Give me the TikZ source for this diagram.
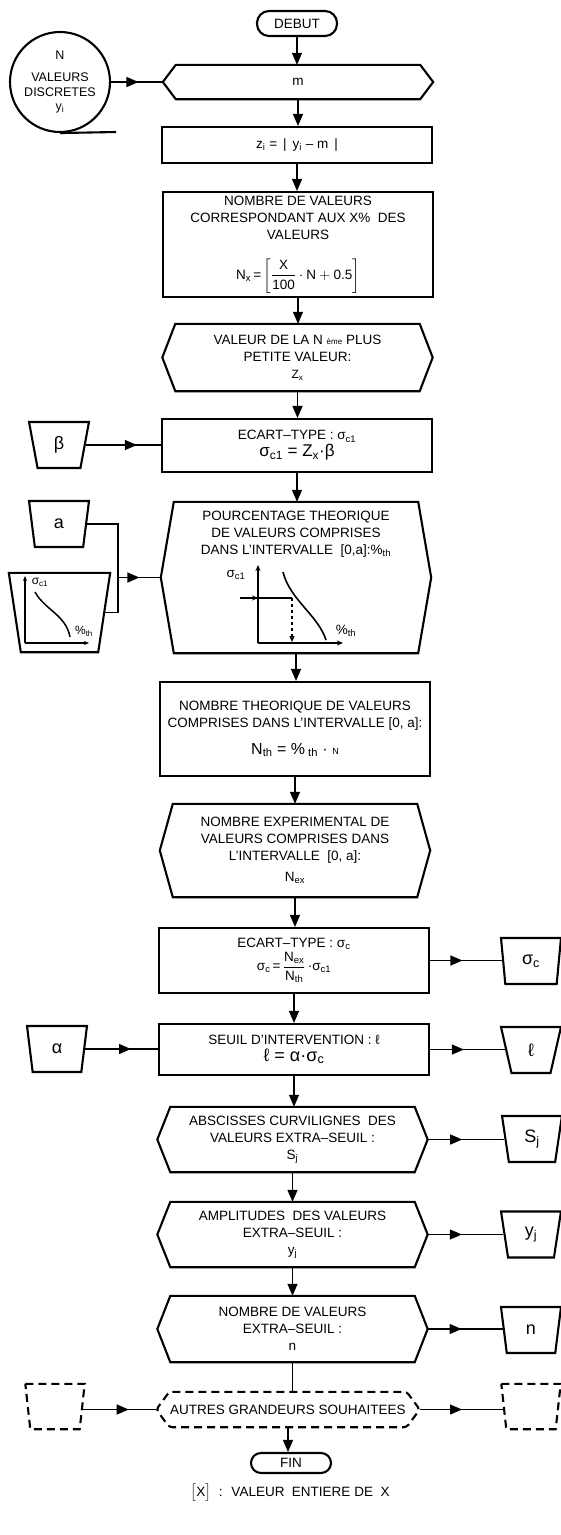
\documentclass[tikz,border=0pt]{standalone}
\usepackage{amsmath}
\usepackage{fontspec}
\setmainfont{Liberation Sans}
\usetikzlibrary{arrows.meta,shapes.geometric,decorations.markings,calc}

% contour hexagonal (affichage) autour d'un noeud rectangulaire invisible
\newcommand{\contourhexa}[2][]{%
  \draw[trait,#1] ($(#2.north west)+(13,0)$) -- ($(#2.north east)+(-13,0)$)
    -- (#2.east) -- ($(#2.south east)+(-13,0)$) -- ($(#2.south west)+(13,0)$)
    -- (#2.west) -- cycle;}
% contour trapeze (operation manuelle), le bas retreci de #3 de chaque cote
\newcommand{\contourmanuel}[3][]{%
  \draw[trait,#1] (#2.north west) -- (#2.north east)
    -- ($(#2.south east)+(-#3,0)$) -- ($(#2.south west)+(#3,0)$) -- cycle;}

\begin{document}
\begin{tikzpicture}[x=1pt,y=-1pt,
    >={Triangle[length=12pt,width=10pt]},
    trait/.style={line width=2.1pt},
    fil/.style={line width=1.3pt},
    texte/.style={align=center,inner sep=0pt,font=\fontsize{13.5}{17}\selectfont},
    boite/.style={texte,draw,trait,minimum width=270pt},
    affich/.style={texte,minimum width=270pt},
    extremite/.style={texte,draw,trait,rounded corners=12pt,minimum width=80pt,minimum height=25pt},
    bande/.style={texte,draw,trait,circle,minimum size=100pt,font=\fontsize{12.5}{14.5}\selectfont},
    manuel/.style={draw,trait,trapezium,trapezium stretches=true,trapezium angle=97,
      minimum width=60pt,minimum height=46pt,inner sep=0pt,font=\fontsize{18}{20}\selectfont},
    vide/.style={texte,minimum width=59pt,minimum height=45pt},
    pointille/.style={dash pattern=on 8pt off 5pt},
    suite/.style={fil,->},
    milieu/.style={fil,postaction={decorate},
      decoration={markings,mark=at position #1 with {\arrow{>}}}},
    milieu/.default=0.55,
    petitfl/.style={-{Stealth[length=6pt,width=5pt]}}]

  \path[use as bounding box,fill=white] (0,0) rectangle (561,1535);

  % --- colonne principale -------------------------------------------------
  \node[extremite] (debut) at (297,23.5) {DEBUT};
  \node[affich,minimum height=34pt] (moyenne) at (298,82) {m};
  \contourhexa{moyenne}
  \node[boite,minimum height=36pt] (absolu) at (297,145)
    {z\textsubscript{i} = \,|\, y\textsubscript{i} – m \,|};
  \node[boite,minimum height=105pt] (nombrex) at (298,244.5)
    {NOMBRE DE VALEURS\\CORRESPONDANT AUX X\% \ DES\\VALEURS\\[18pt]
     N\textsubscript{x}\,=\,$\left[\dfrac{\text{X}}{\text{100}}\cdot\text{N}+\text{0.5}\right]$};
  \node[affich,minimum height=67pt] (petite) at (297.5,357.5)
    {VALEUR DE LA N {\footnotesize ème} PLUS\\PETITE VALEUR:\\{\large Z\textsubscript{x}}};
  \contourhexa{petite}
  \node[boite,minimum height=53pt] (ecartun) at (297,445.5)
    {ECART–TYPE : σ\textsubscript{c1}\\{\fontsize{17}{20}\selectfont σ\textsubscript{c1} = Z\textsubscript{x}·β}};
  \node[affich,minimum height=151pt] (pourcent) at (296,577.5) {};
  \contourhexa{pourcent}
  \node[texte] (titrepc) at (296,534)
    {POURCENTAGE THEORIQUE\\DE VALEURS COMPRISES\\DANS L'INTERVALLE \ [0,a]:\%\textsubscript{th}};
  \node[boite,minimum height=94pt] (theorique) at (295,729)
    {NOMBRE THEORIQUE DE VALEURS\\COMPRISES DANS L'INTERVALLE [0, a]:\\[10pt]
     {\fontsize{16}{19}\selectfont N\textsubscript{th} = \%\textsubscript{ th} · {\small N}}};
  \node[affich,minimum height=93pt] (experim) at (295,850.5)
    {NOMBRE EXPERIMENTAL DE\\VALEURS COMPRISES DANS\\L'INTERVALLE \ [0, a]:\\[4pt]N\textsubscript{ex}};
  \contourhexa{experim}
  \node[boite,minimum height=65pt] (ecartc) at (294,960.5)
    {ECART–TYPE : σ\textsubscript{c}\\[1pt]
     σ\textsubscript{c}\,=\,$\dfrac{\text{N\textsubscript{ex}}}{\text{N\textsubscript{th}}}$\,·σ\textsubscript{c1}};
  \node[boite,minimum height=51pt] (seuil) at (294,1049.5)
    {SEUIL D'INTERVENTION : ℓ\\{\fontsize{18}{20}\selectfont ℓ = α·σ\textsubscript{c}}};
  \node[affich,minimum height=65pt] (abscisses) at (292.5,1139.5)
    {ABSCISSES CURVILIGNES \ DES\\VALEURS EXTRA–SEUIL :\\S\textsubscript{j}};
  \contourhexa{abscisses}
  \node[affich,minimum height=65pt] (amplitudes) at (292.5,1234.5)
    {AMPLITUDES \ DES VALEURS\\EXTRA–SEUIL :\\y\textsubscript{j}};
  \contourhexa{amplitudes}
  \node[affich,minimum height=66pt] (extra) at (292.5,1329)
    {NOMBRE DE VALEURS\\EXTRA–SEUIL :\\n};
  \contourhexa{extra}
  \node[texte,minimum width=263pt,minimum height=35pt] (autres) at (288,1409.5)
    {AUTRES GRANDEURS SOUHAITEES};
  \contourhexa[pointille,rounded corners=3pt]{autres}
  \node[extremite,minimum height=20pt,rounded corners=10pt] (fin) at (291,1463) {FIN};
  \node[texte] (note) at (290,1493) {$\big[$X$\big]$ \ : \ VALEUR \ ENTIERE DE \ X};

  % --- abaque dans le pourcentage theorique --------------------------------
  \draw[fil,petitfl] (258,643) -- (258,565);
  \draw[fil,petitfl] (258,643) -- (343,643);
  \node[texte] (sigmaaxe) at (236,575) {σ\textsubscript{c1}};
  \node[texte] (pcaxe) at (346,631) {\%\textsubscript{th}};
  \draw[line width=1.6pt] (283,572) .. controls (290,600) and (318,615) .. (326,640);
  \draw[fil] (240,598) -- (292,598);
  \draw[fil,petitfl] (240,598) -- (258,598);
  \draw[fil,dashed,-{Triangle[open,length=6pt,width=5pt]}] (292,598) -- (292,642);

  % --- entrees a gauche ------------------------------------------------------
  \node[bande] (valeurs) at (60,82) {N\\[8pt]VALEURS\\DISCRETES\\y\textsubscript{i}};
  \coordinate (finbande) at (116,132);
  \draw[trait] (valeurs.south) -- (finbande);
  \node[manuel] (beta) at (59,445) {β};
  \node[manuel] (borne) at (59,524) {a};
  \node[texte,minimum width=101pt,minimum height=79pt] (abaque) at (59.5,612.5) {};
  \contourmanuel{abaque}{12}
  \draw[fil,-{Stealth[length=5pt,width=4pt]}] (25,643) -- (25,576);
  \draw[fil,-{Stealth[length=5pt,width=4pt]}] (25,643) -- (89,643);
  \node[texte,font=\fontsize{12}{13}\selectfont] (sigmaab) at (40,582) {σ\textsubscript{c1}};
  \draw[line width=1.5pt] (35,592) .. controls (45,610) and (66,615) .. (70,637);
  \node[texte,font=\fontsize{12}{13}\selectfont] (pcab) at (84,631) {\%\textsubscript{th}};
  \node[manuel] (alpha) at (57,1049) {α};
  \node[vide] (videg) at (55,1406.5) {};
  \contourmanuel[pointille]{videg}{5}

  % --- sorties a droite ------------------------------------------------------
  \node[manuel] (sigmac) at (531,961) {σ\textsubscript{c}};
  \node[manuel] (ell) at (531,1050) {ℓ};
  \node[manuel] (sj) at (532,1139) {S\textsubscript{j}};
  \node[manuel] (yj) at (531,1234.5) {y\textsubscript{j}};
  \node[manuel] (nsortie) at (531,1330) {n};
  \node[vide] (vided) at (531,1406.5) {};
  \contourmanuel[pointille]{vided}{5}

  % --- fleches ---------------------------------------------------------------
  \foreach \haut/\bas in {debut/moyenne,moyenne/absolu,absolu/nombrex,nombrex/petite,
      petite/ecartun,ecartun/pourcent,pourcent/theorique,theorique/experim,
      experim/ecartc,ecartc/seuil,seuil/abscisses,abscisses/amplitudes,
      amplitudes/extra,autres/fin}
    \draw[suite] (\haut) -- (\haut |- \bas.north);
  % pas de pointe vers les autres grandeurs
  \draw[fil] (extra) -- (extra |- autres.north);

  \draw[milieu=0.53] (valeurs) -- (moyenne.west);
  \draw[milieu=0.68] (beta.east) -- (beta.east -| ecartun.west);
  \coordinate (jonction) at (118,577.5);
  \draw[fil] (borne.east) -| (jonction) |- ($(abaque.east)+(-6,0)$);
  \draw[milieu=0.5] (jonction) -- (pourcent.west);
  \draw[milieu=0.63] (alpha.east) -- (alpha.east -| seuil.west);
  \coordinate (departg) at ($(videg.east)+(-3,3)$);
  \draw[milieu=0.63] (departg) -- (departg -| autres.west);

  \draw[milieu=0.45] (ecartc.east) -- (ecartc.east -| sigmac.west);
  \draw[milieu=0.45] (seuil.east) -- (seuil.east -| ell.west);
  \draw[milieu=0.45] (abscisses.east) -- (abscisses.east -| sj.west);
  \draw[milieu=0.45] (amplitudes.east) -- (amplitudes.east -| yj.west);
  \draw[milieu=0.45] (extra.east) -- (extra.east -| nsortie.west);
  \draw[milieu=0.5] (autres.east) -- ($(autres.east -| vided.west)+(3,0)$);
\end{tikzpicture}
\end{document}
